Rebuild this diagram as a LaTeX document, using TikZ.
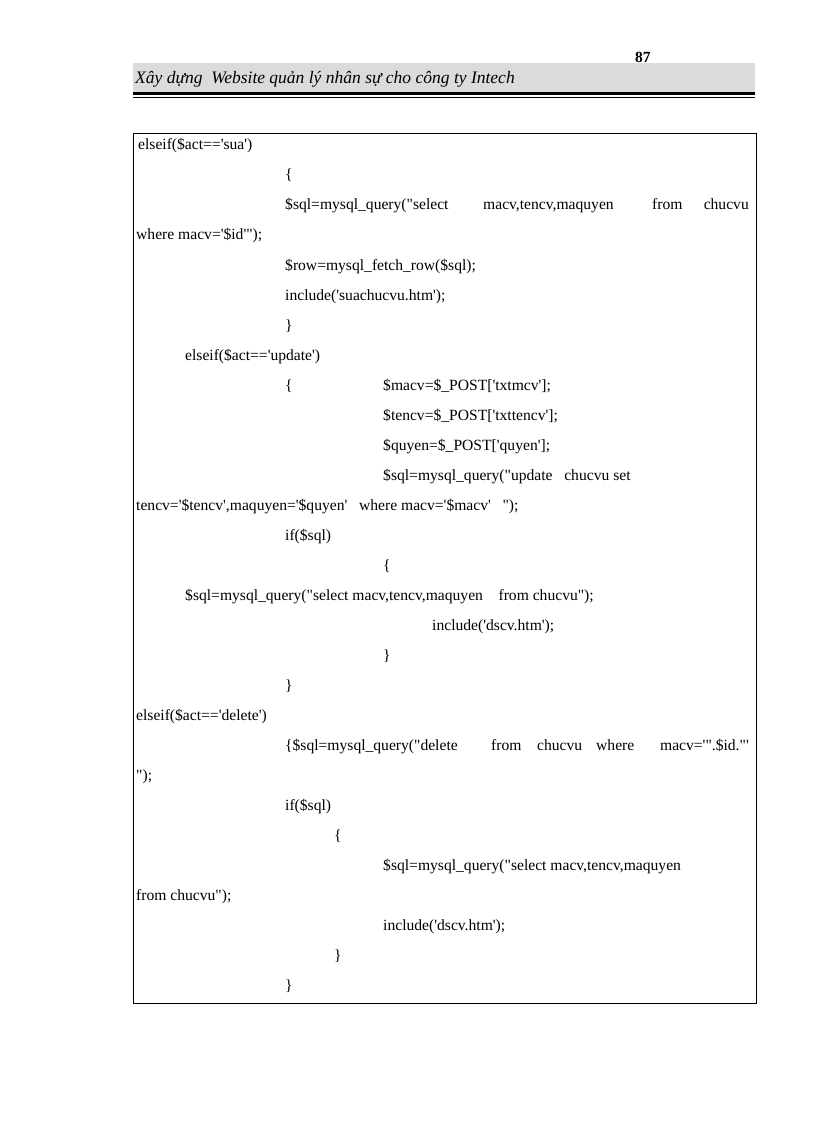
\documentclass[tikz,border=0pt]{standalone}
\usepackage{fontspec}
\newfontfamily\code{Liberation Serif}
\newfontfamily\hdr{Liberation Serif}
\newcounter{ln}
\newcommand{\Lt}[3]{\stepcounter{ln}\node[txt] (l\theln) at (#1pt,-#2pt-5pt) {#3};}
\newcommand{\Rt}[3]{\stepcounter{ln}\node[txt,anchor=base east] (l\theln) at (#1pt,-#2pt-5pt) {#3};}
\begin{document}
\begin{tikzpicture}[x=1pt,y=1pt,
  txt/.style={anchor=base west,inner sep=0pt,font=\code\fontsize{15.6}{17}\selectfont}]
\useasboundingbox (0,0) rectangle (816,-1123);
\fill[white] (0,0) rectangle (816,-1123);
% header
\fill[gray!28] (133,-63) rectangle (755,-92);
\fill[black] (133,-92) rectangle (755,-95);
\draw[line width=0.8pt] (133,-97.5) -- (755,-97.5);
\node[anchor=base west,inner sep=0pt,font=\hdr\itshape\fontsize{17.5}{19}\selectfont] (title) at (135,-84) {Xây dựng\ \ Website quản lý nhân sự cho công ty Intech};
\node[anchor=base west,inner sep=0pt,font=\hdr\bfseries\fontsize{15.5}{18}\selectfont] (pg) at (635,-63) {87};
% box
\draw[line width=0.8pt] (133,-133) rectangle (756,-1003);
\Lt{138}{145}{elseif(\$act=='sua')}
\Lt{285}{175}{\{}
\Lt{285}{205}{\$sql=mysql\_query("select}
\Lt{483}{205}{macv,tencv,maquyen}
\Lt{652}{205}{from}
\Rt{749}{205}{chucvu}
\Lt{136}{235}{where macv='\$id'");}
\Lt{285}{265}{\$row=mysql\_fetch\_row(\$sql);}
\Lt{285}{295}{include('suachucvu.htm');}
\Lt{285}{325}{\}}
\Lt{185}{355}{elseif(\$act=='update')}
\Lt{285}{385}{\{}
\Lt{383}{385}{\$macv=\$\_POST['txtmcv'];}
\Lt{383}{415}{\$tencv=\$\_POST['txttencv'];}
\Lt{383}{445}{\$quyen=\$\_POST['quyen'];}
\Lt{383}{475}{\$sql=mysql\_query("update\ \ \ chucvu set}
\Lt{136}{505}{tencv='\$tencv',maquyen='\$quyen'\ \ \ where macv='\$macv'\ \ \ ");}
\Lt{285}{535}{if(\$sql)}
\Lt{383}{565}{\{}
\Lt{185}{595}{\$sql=mysql\_query("select\ macv,tencv,maquyen\ \ \ \ from chucvu");}
\Lt{432}{625}{include('dscv.htm');}
\Lt{383}{655}{\}}
\Lt{285}{685}{\}}
\Lt{136}{715}{elseif(\$act=='delete')}
\Lt{285}{745}{\{\$sql=mysql\_query("delete}
\Lt{491}{745}{from}
\Lt{537}{745}{chucvu}
\Lt{596}{745}{where}
\Rt{749}{745}{macv='".\$id."'}
\Lt{136}{775}{");}
\Lt{285}{805}{if(\$sql)}
\Lt{334}{835}{\{}
\Lt{383}{865}{\$sql=mysql\_query("select\ macv,tencv,maquyen}
\Lt{136}{895}{from chucvu");}
\Lt{383}{925}{include('dscv.htm');}
\Lt{334}{955}{\}}
\Lt{285}{985}{\}}
\end{tikzpicture}
\end{document}
